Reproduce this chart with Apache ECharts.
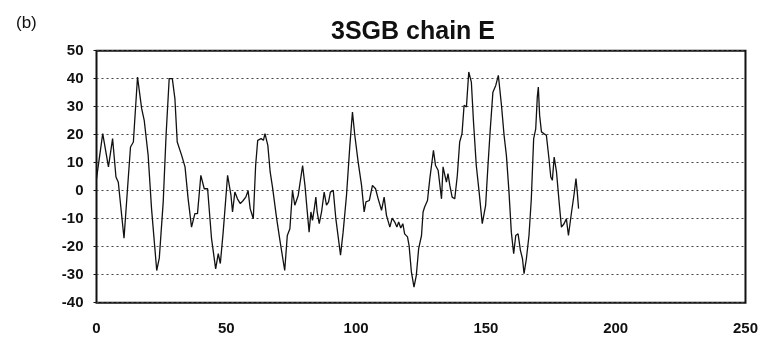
<!DOCTYPE html>
<html>
<head>
<meta charset="utf-8">
<script src="https://cdn.jsdelivr.net/npm/echarts@6/dist/echarts.min.js"></script>
<style>
html,body{margin:0;padding:0;background:#fff;}
#chart{width:761px;height:347px;}
</style>
</head>
<body>
<div id="chart"></div>
<script>
var titleText = "3SGB chain E";
var panelLabel = "(b)";
var xTicks = [0, 50, 100, 150, 200, 250];
var yTicks = [-40, -30, -20, -10, 0, 10, 20, 30, 40, 50];

var residue = [
  0, 2.4, 4.6, 6.2, 7.5, 8.4, 10.6, 12.2, 13.1, 14.2, 15.8, 17.4, 18.4, 19.9, 21.2, 23.2, 24.2, 25.7, 26.8, 28, 29.2, 30.2, 31.1, 32.8, 34.1,
  35.3, 36.6, 37.9, 38.9, 40.2, 41.5, 42.8, 44.3, 45.9, 46.9, 47.7, 48.8, 50.5, 51.8, 52.4, 53.3, 54.3, 55.4, 56.5, 57.5, 58.4, 59.2, 60.4,
  61.3, 62.1, 63.4, 64.3, 64.9, 66, 66.9, 67.8, 68.5, 69.4, 70.7, 72.5, 73.5, 74.5, 75.5, 76.4, 77.7, 79.4, 80.3, 81.2, 81.9, 82.6, 83.2,
  83.9, 84.5, 85, 85.8, 86.7, 87.7, 88.6, 89.4, 90.1, 91.2, 92.2, 94, 95, 96.3, 97.6, 98.6, 99.5, 100.8, 102.1, 103.1, 103.8, 105.1, 106.3,
  107.5, 108.5, 109.8, 110.8, 111.7, 113, 113.9, 114.9, 115.7, 116.4, 117.2, 118, 118.7, 119.8, 120.4, 121.3, 122.3, 123.2, 124.1, 125.2,
  125.8, 126.4, 127.5, 128.4, 129.3, 129.8, 130.6, 131.6, 132.2, 132.9, 133.5, 134.2, 134.8, 135.4, 136.1, 137, 138, 139, 139.9, 140.8,
  141.6, 142.5, 143.4, 144.4, 145.2, 146.3, 147.4, 148.6, 149.9, 150.8, 151.7, 152.7, 153.8, 154.8, 156, 157, 157.9, 158.9, 159.8, 160.7,
  161.5, 162.4, 163.3, 164.1, 164.7, 165.6, 166.6, 167.5, 168.4, 169.2, 169.8, 170.2, 170.7, 171.4, 172.3, 173.3, 174.3, 175, 175.6, 176.3,
  177.2, 178.2, 179.1, 180.1, 181, 181.8, 183, 184, 184.7, 185.2, 185.7
];
var score = [
  4.3, 20.4, 8.5, 18.6, 4.9, 3, -17, 4, 15.6, 17.4, 40.6, 29.3, 25, 12.6, -6.4, -28.5, -24, -4, 19.8, 40, 40, 32.9, 17.4, 12.6, 8.5,
  -2.9, -13, -8.2, -8.2, 5.5, 0.7, 0.7, -17, -27.9, -22.5, -26, -14.8, 5.5, -1.7, -7.6, -0.5, -2.9, -4.6, -3.5, -2.3, 0, -6.4, -10,
  9, 18, 18.6, 18, 20.4, 16.2, 6.7, 1.3, 0.7, -10, -18, -28.5, -16, -13.6, 0, -5.2, -1.7, 9, 1.9, -7.6, -14.8, -7.6, -10.6,
  -6.4, -2.3, -7.6, -11.8, -7.6, -0.5, -5.2, -4, -0.5, 0.1, -10, -23, -14.8, -1.7, 16.2, 28.1, 19.8, 10.2, 1.9, -7.6, -4, -3.5, 1.9,
  0.7, -2.9, -7, -2.3, -8.8, -13, -9.8, -11.2, -13, -11.2, -13.3, -11.8, -15.4, -16.5, -19.5, -29, -34.4, -30.2, -20.7, -16,
  -7.6, -5.8, -3.5, 4.3, 10.8, 14.4, 9, 7.3, 6.7, -2.9, 8.5, 5.5, 3.1, 6.1, 1.9, -2.3, -2.9, 5.5, 17.4, 20.4,
  30.5, 29.9, 42.4, 38.8, 25, 9, -0.5, -11.8, -5.2, 9, 22.1, 35.2, 37.6, 41.2, 30.5, 19.8, 12.6, -0.5, -14.8, -22.5,
  -16, -15.4, -21.3, -24.3, -29.6, -24.3, -16, -2.9, 18.6, 22.1, 33.4, 37, 26.9, 21, 20.4, 19.8, 11.4, 4.9, 3.7, 12,
  6.7, -4, -13, -11.8, -10, -16, -7.6, -1.1, 4.3, -0.5, -6.4
];

var points = residue.map(function (x, i) { return [x, score[i]]; });

var chart = echarts.init(document.getElementById('chart'), null, {renderer: 'canvas'});
chart.setOption({
  animation: false,
  backgroundColor: '#ffffff',
  title: [
    {
      text: titleText,
      left: 408, top: 14, textAlign: 'center',
      textStyle: {fontFamily: 'Liberation Sans', fontSize: 25, lineHeight: 27, fontWeight: 'bold', color: '#111'}
    },
    {
      text: panelLabel,
      left: 11, top: 9,
      textStyle: {fontFamily: 'Liberation Sans', fontSize: 17, lineHeight: 19, fontWeight: 'normal', color: '#111'}
    }
  ],
  grid: {left: 96.5, right: 15, top: 50.7, bottom: 44.3, show: true, borderColor: '#111', borderWidth: 2, backgroundColor: 'transparent'},
  xAxis: {
    type: 'value', min: xTicks[0], max: xTicks[xTicks.length - 1], interval: 50,
    axisLine: {show: false, onZero: false},
    axisTick: {show: false},
    splitLine: {show: false},
    axisLabel: {margin: 19, fontFamily: 'Liberation Sans', fontSize: 15, fontWeight: 'bold', color: '#111'}
  },
  yAxis: {
    type: 'value', min: yTicks[0], max: yTicks[yTicks.length - 1], interval: 10,
    axisLine: {show: false, onZero: false},
    axisTick: {show: true, length: 3, lineStyle: {color: '#111'}},
    splitLine: {show: true, lineStyle: {color: '#444', type: [2, 3], width: 1}},
    axisLabel: {margin: 13, fontFamily: 'Liberation Sans', fontSize: 15, fontWeight: 'bold', color: '#111'}
  },
  series: [{
    type: 'line',
    data: points,
    showSymbol: false,
    symbol: 'none',
    lineStyle: {color: '#111', width: 1.3},
    z: 5
  }]
});
</script>
</body>
</html>
